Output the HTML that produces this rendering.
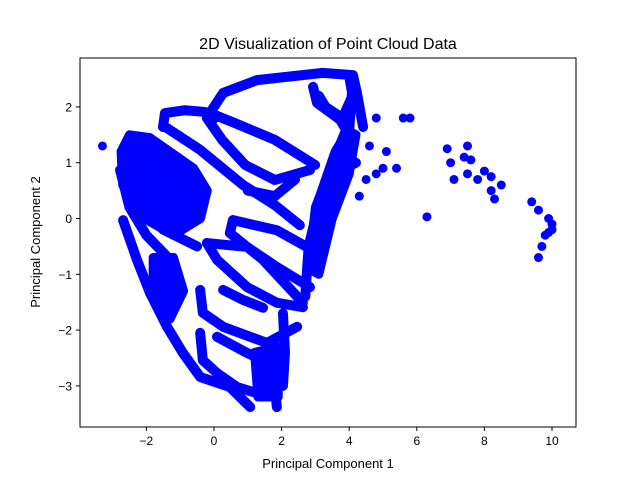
<!DOCTYPE html>
<html><head><meta charset="utf-8"><style>
body{margin:0;background:#fff}
svg text{font-family:"Liberation Sans",sans-serif;fill:#000}
</style></head><body>
<svg id="c" width="640" height="480">
<rect width="640" height="480" fill="#fff"/>
<text x="328" y="49" text-anchor="middle" font-size="16">2D Visualization of Point Cloud Data</text>
<text x="328" y="468" text-anchor="middle" font-size="13">Principal Component 1</text>
<text transform="translate(40,242) rotate(-90)" text-anchor="middle" font-size="13">Principal Component 2</text>
<g id="marks"></g>
<g id="ticks"></g>
<rect x="80" y="58" width="496" height="369" fill="none" stroke="#000" stroke-width="1"/>
</svg>
<script>
const xTicks=[-2,0,2,4,6,8,10];
const yTicks=[-3,-2,-1,0,1,2];
const blobs=[
[[-2.5,1.5],[-1.9,1.45],[-0.6,0.9],[-0.2,0.5],[-0.4,0.0],[-1.2,-0.3],[-2.2,0.05],[-2.7,0.6],[-2.75,1.2]],
[[2.8,-0.9],[3.0,0.2],[3.5,1.0],[3.9,1.6],[4.2,1.5],[4.0,0.8],[3.5,0.0],[3.1,-1.0]],
[[1.2,-2.4],[1.9,-2.3],[1.9,-3.2],[1.3,-3.2]],
[[-1.8,-0.7],[-1.2,-0.7],[-0.9,-1.3],[-1.3,-1.8],[-1.8,-1.4]]
];
const tracks=[
[[-0.12,1.89],[0.27,2.25],[1.27,2.48],[3.22,2.61],[4.11,2.57],[4.23,2.25],[4.41,1.64]],
[[2.93,2.36],[3.05,2.07],[3.73,1.77],[4.0,1.5]],
[[-1.51,1.64],[-1.45,1.89],[-0.86,1.94],[-0.27,1.91],[0.03,1.80]],
[[-1.39,1.62],[-0.41,1.23],[0.86,0.6],[1.8,0.24],[2.54,-0.12]],
[[-0.21,1.80],[0.24,1.41],[0.92,0.96],[1.8,0.69],[2.84,0.87]],
[[-0.12,1.89],[0.62,1.71],[1.8,1.41],[2.99,0.96]],
[[0.56,-0.03],[0.47,-0.26],[1.45,-0.74],[2.63,-1.51]],
[[0.56,-0.03],[1.86,-0.21],[2.75,-0.51],[3.05,-0.74]],
[[-0.21,-0.44],[0.98,-0.51],[1.86,-0.87],[2.84,-1.23]],
[[-0.21,-0.44],[0.09,-0.74],[0.98,-1.23],[1.86,-1.51],[2.63,-1.59]],
[[-0.41,-1.28],[-0.33,-1.69],[0.27,-1.94],[1.07,-2.12],[1.57,-2.23],[2.46,-1.94]],
[[0.27,-1.28],[0.86,-1.46],[1.45,-1.6]],
[[-0.41,-2.05],[-0.33,-2.54],[0.09,-2.77],[0.68,-3.02],[1.27,-3.13]],
[[0.09,-2.12],[0.98,-2.41],[1.45,-2.54]],
[[-2.69,-0.03],[-2.28,-0.74],[-1.89,-1.34],[-1.39,-1.94],[-0.92,-2.41],[-0.41,-2.84],[0.47,-3.02],[1.07,-3.38]],
[[-2.78,0.87],[-2.5,0.2],[-2.0,-0.3],[-1.2,-0.8]],
[[1.66,-2.23],[1.86,-3.38]],
[[2.04,-1.7],[2.1,-2.4],[2.04,-3.0]],
[[2.7,-1.4],[2.8,-0.5],[3.2,0.5],[3.6,1.2],[4,1.6],[4.1,2.4]],
[[3,0],[3.5,0.8],[4.2,1.0]],
[[3.1,2.2],[3.3,2.0],[3.8,1.8],[4.1,2.2],[4.0,2.55]],
[[1.0,0.5],[1.8,0.4],[2.4,0.7]],
[[-2.6,1.3],[-1.0,0.6],[-0.6,0.2]],
[[-2.6,0.5],[-1.5,-0.2],[-0.5,-0.5]]
];
const ptsX=[4.5,4.8,5,5.4,4.3,4.6,4.8,5.6,5.8,5.1,6.3,6.9,7.0,7.1,7.5,7.4,7.6,7.8,8,8.2,8.2,8.5,8.3,7.5,9.4,9.6,9.9,10,9.8,9.7,9.6,9.9,10,-3.3];
const ptsY=[0.7,0.8,0.9,0.9,0.4,1.3,1.8,1.8,1.8,1.2,0.03,1.25,1.0,0.7,1.3,1.1,1.05,0.7,0.85,0.75,0.5,0.6,0.35,0.8,0.3,0.15,0.0,-0.1,-0.3,-0.5,-0.7,-0.25,-0.2,1.3];
const sx=v=>214+v*33.8, sy=v=>218.5-v*55.8;
const NS='http://www.w3.org/2000/svg';
const g=document.getElementById('marks'), tg=document.getElementById('ticks');
blobs.forEach(b=>{
const bp=document.createElementNS(NS,'polygon');
bp.setAttribute('points',b.map(p=>sx(p[0])+','+sy(p[1])).join(' '));
bp.setAttribute('fill','#0000ff');bp.setAttribute('stroke','#0000ff');bp.setAttribute('stroke-width','9');bp.setAttribute('stroke-linejoin','round');


g.appendChild(bp);});
tracks.forEach(t=>{
const pl=document.createElementNS(NS,'polyline');
pl.setAttribute('points',t.map(p=>sx(p[0])+','+sy(p[1])).join(' '));
pl.setAttribute('fill','none');pl.setAttribute('stroke','#0000ff');pl.setAttribute('stroke-width','10');
pl.setAttribute('stroke-linejoin','round');pl.setAttribute('stroke-linecap','round');


g.appendChild(pl);});
ptsX.forEach((x,i)=>{
const c=document.createElementNS(NS,'circle');
c.setAttribute('cx',sx(x));c.setAttribute('cy',sy(ptsY[i]));c.setAttribute('r','4.5');c.setAttribute('fill','#0000ff');


g.appendChild(c);});
xTicks.forEach(v=>{
const l=document.createElementNS(NS,'line');
l.setAttribute('x1',sx(v));l.setAttribute('x2',sx(v));l.setAttribute('y1',427);l.setAttribute('y2',431);l.setAttribute('stroke','#000');


tg.appendChild(l);
const t=document.createElementNS(NS,'text');
t.setAttribute('x',sx(v));t.setAttribute('y',445);t.setAttribute('text-anchor','middle');t.setAttribute('font-size','12');
t.textContent=v<0?'\u2212'+(-v):v;


tg.appendChild(t);});
yTicks.forEach(v=>{
const l=document.createElementNS(NS,'line');
l.setAttribute('x1',76);l.setAttribute('x2',80);l.setAttribute('y1',sy(v));l.setAttribute('y2',sy(v));l.setAttribute('stroke','#000');


tg.appendChild(l);
const t=document.createElementNS(NS,'text');
t.setAttribute('x',72);t.setAttribute('y',sy(v)+4.5);t.setAttribute('text-anchor','end');t.setAttribute('font-size','12');
t.textContent=v<0?'\u2212'+(-v):v;


tg.appendChild(t);});
</script>
</body></html>
